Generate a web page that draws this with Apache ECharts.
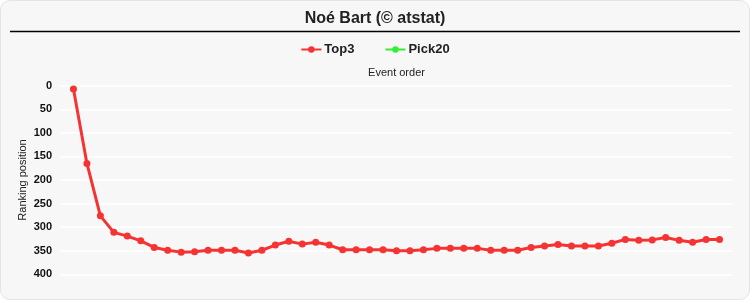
<!DOCTYPE html>
<html>
<head>
<meta charset="utf-8">
<script src="https://cdn.jsdelivr.net/npm/echarts@6/dist/echarts.min.js"></script>
<style>
html,body{margin:0;padding:0;background:#ffffff;}
#wrap{position:absolute;left:0;top:0;width:748px;height:298px;border:1px solid #e4e4e4;border-radius:10px;background:#f7f7f7;overflow:hidden;}
#chart{width:750px;height:300px;position:absolute;left:-1px;top:-1px;}
</style>
</head>
<body>
<div id="wrap"><div id="chart"></div></div>
<script>
const titleText = 'Noé Bart (© atstat)';
const seriesNames = ['Top3', 'Pick20'];
const eventOrder = [1,2,3,4,5,6,7,8,9,10,11,12,13,14,15,16,17,18,19,20,21,22,23,24,25,26,27,28,29,30,31,32,33,34,35,36,37,38,39,40,41,42,43,44,45,46,47,48,49];
const top3 = [7,165,276,311,319,329,343,349,353,352,349,349,349,355,349,338,330,336,332,338,348,348,348,348,350,350,348,345,345,345,345,349,349,349,343,340,337,340,340,340,334,326,328,327,322,328,332,326,326];
const pick20 = [];
const yTicks = [0,50,100,150,200,250,300,350,400];

const font = '"Liberation Sans", Arial, sans-serif';
const chart = echarts.init(document.getElementById('chart'), null, {renderer:'canvas'});
chart.setOption({
  backgroundColor: 'transparent',
  animation: false,
  title: {
    text: titleText, left: 'center', top: 6,
    textStyle: {fontFamily: font, fontSize: 16, fontWeight: 'bold', color: '#222'}
  },
  graphic: [{
    type: 'line', shape: {x1: 10, y1: 31.5, x2: 740, y2: 31.5},
    style: {stroke: '#000', lineWidth: 1.5}
  }],
  legend: {
    top: 38, left: 'center', itemWidth: 20, itemHeight: 8, itemGap: 30,
    data: seriesNames,
    textStyle: {fontFamily: font, fontSize: 13, fontWeight: 'bold', color: '#222', padding: [0,0,0,-2]}
  },
  grid: {left: 60, right: 17, top: 85.7, bottom: 25.7, containLabel: false},
  xAxis: {
    type: 'value', position: 'top', min: 0, max: 50,
    name: 'Event order', nameLocation: 'middle', nameGap: 7, nameMoveOverlap: false,
    nameTextStyle: {fontFamily: font, fontSize: 11, color: '#222'},
    axisLabel: {show: false}, axisTick: {show: false}, axisLine: {show: false}, splitLine: {show: false}
  },
  yAxis: {
    type: 'value', inverse: true, min: yTicks[0], max: yTicks[yTicks.length-1], interval: 50,
    name: 'Ranking position', nameLocation: 'middle', nameGap: 32, nameRotate: 90, nameMoveOverlap: false,
    nameTextStyle: {fontFamily: font, fontSize: 11, color: '#222'},
    axisLabel: {fontFamily: font, fontSize: 11, fontWeight: 'bold', color: '#111', margin: 8},
    axisTick: {show: false}, axisLine: {show: false},
    splitLine: {show: true, lineStyle: {color: '#ffffff', width: 1.5}}
  },
  series: [
    {
      name: seriesNames[0], type: 'line', color: '#f53333',
      data: eventOrder.map((e, i) => [e, top3[i]]),
      symbol: 'circle', symbolSize: 7,
      lineStyle: {width: 3, color: '#f53333'}, itemStyle: {color: '#f53333'}
    },
    {
      name: seriesNames[1], type: 'line', color: '#33ee33',
      data: pick20.map((v, i) => [eventOrder[i], v]),
      symbol: 'circle', symbolSize: 7,
      lineStyle: {width: 3, color: '#33ee33'}, itemStyle: {color: '#33ee33'}
    }
  ]
});
</script>
</body>
</html>
